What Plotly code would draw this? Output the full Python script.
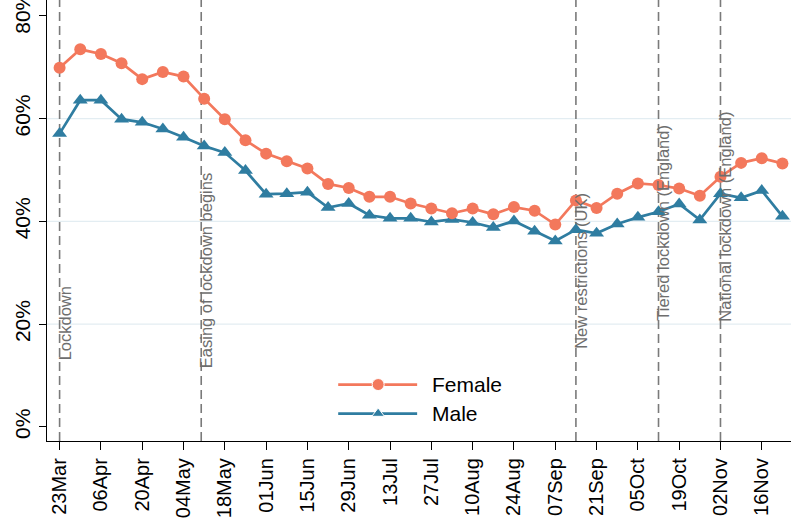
import pandas as pd
import plotly.graph_objects as go

# ---- data ----
start_date = "2020-03-23"
n_weeks = 36
female = [69.9, 73.5, 72.6, 70.8, 67.7, 69.1, 68.2, 63.9, 59.9, 55.8, 53.2, 51.7,
          50.3, 47.3, 46.5, 44.8, 44.8, 43.5, 42.5, 41.6, 42.5, 41.4, 42.8, 42.1,
          39.4, 44.1, 42.6, 45.4, 47.4, 47.1, 46.4, 45.0, 48.7, 51.4, 52.3, 51.3]
male = [57.1, 63.6, 63.6, 59.9, 59.3, 58.0, 56.4, 54.7, 53.4, 49.9, 45.3, 45.4,
        45.7, 42.7, 43.5, 41.2, 40.6, 40.6, 39.9, 40.4, 39.8, 38.8, 40.1, 38.1,
        36.2, 38.4, 37.7, 39.5, 40.8, 41.9, 43.4, 40.3, 45.4, 44.6, 46.0, 41.0]
tick_labels = ["23Mar", "06Apr", "20Apr", "04May", "18May", "01Jun", "15Jun", "29Jun",
               "13Jul", "27Jul", "10Aug", "24Aug", "07Sep", "21Sep", "05Oct", "19Oct",
               "02Nov", "16Nov"]
y_tick_vals = [0, 20, 40, 60, 80]
y_tick_text = ["0%", "20%", "40%", "60%", "80%"]
event_dates = ["2020-03-23", "2020-05-10", "2020-09-14", "2020-10-12", "2020-11-02"]
event_labels = ["Lockdown", "Easing of lockdown begins", "New restrictions (UK)",
                "Tiered lockdown (England)", "National lockdown (England)"]
event_label_y = [12.5, 11.0, 14.8, 20.2, 20.2]

dates = pd.date_range(start_date, periods=n_weeks, freq="7D")
tick_vals = list(dates[::2])

FEMALE_C = "#F3785C"
MALE_C = "#2F7DA1"
FONT = "Liberation Sans, Arial, sans-serif"

fig = go.Figure()
fig.add_trace(go.Scatter(x=dates, y=male, mode="lines+markers", name="Male",
                         line=dict(color=MALE_C, width=2.7),
                         marker=dict(symbol="triangle-up", size=13, color=MALE_C),
                         showlegend=False))
fig.add_trace(go.Scatter(x=dates, y=female, mode="lines+markers", name="Female",
                         line=dict(color=FEMALE_C, width=2.7),
                         marker=dict(symbol="circle", size=12, color=FEMALE_C),
                         showlegend=False))

# custom legend drawn on an overlay axis (paper-like coordinates)
legend_items = [("Female", FEMALE_C, "circle", 0.128), ("Male", MALE_C, "triangle-up", 0.0622)]
for name, col, sym, ly in legend_items:
    fig.add_trace(go.Scatter(x=[0.3914, 0.4451, 0.4975], y=[ly, ly, ly],
                             mode="lines+markers", xaxis="x2", yaxis="y2",
                             line=dict(color=col, width=2.7),
                             marker=dict(symbol=sym, size=[0, 12 if sym == "circle" else 11, 0],
                                         color=col, opacity=1),
                             showlegend=False, hoverinfo="skip"))
    fig.add_annotation(x=0.515, y=ly, xref="x2", yref="y2", text=name, showarrow=False,
                       xanchor="left", yanchor="middle",
                       font=dict(family=FONT, size=21, color="black"))

# gridlines at interior ticks
for gv in [20, 40, 60]:
    fig.add_shape(type="line", xref="paper", x0=0, x1=1, yref="y", y0=gv, y1=gv,
                  line=dict(color="#E3EDF2", width=1.3), layer="below")

# event lines and labels
for d, lab, ly in zip(event_dates, event_labels, event_label_y):
    fig.add_shape(type="line", xref="x", x0=d, x1=d, yref="paper", y0=0, y1=1,
                  line=dict(color="#7A7A7A", width=1.6, dash="9px,5px"), layer="below")
    fig.add_annotation(x=d, y=ly, xref="x", yref="y", text=lab, showarrow=False,
                       textangle=-90, xanchor="center", yanchor="bottom", xshift=5,
                       font=dict(family=FONT, size=16.5, color="#6E6E6E"))

fig.update_layout(
    width=791, height=526,
    margin=dict(l=47, r=0, t=0, b=85),
    plot_bgcolor="white", paper_bgcolor="white",
    font=dict(family=FONT, color="black"),
    xaxis=dict(type="date", automargin=False,
               range=["2020-03-18 17:30", "2020-11-25 21:40"],
               tickvals=tick_vals, ticktext=tick_labels, tickangle=-90,
               tickfont=dict(size=20, color="black"),
               showline=True, linecolor="black", linewidth=1.3,
               ticks="outside", ticklen=8, tickcolor="black", tickwidth=1.3,
               showgrid=False, zeroline=False),
    yaxis=dict(range=[-2.73, 83.1], tickvals=y_tick_vals, ticktext=y_tick_text,
               automargin=False, ticklabeloverflow="allow",
               tickangle=-90, tickfont=dict(size=21, color="black"),
               showline=True, linecolor="black", linewidth=1.3,
               ticks="outside", ticklen=7, tickcolor="black", tickwidth=1.3,
               showgrid=False, zeroline=False),
    xaxis2=dict(overlaying="x", range=[0, 1], visible=False, domain=[0, 1]),
    yaxis2=dict(overlaying="y", range=[0, 1], visible=False),
)

fig.write_html("out.html", config={"displayModeBar": False},
               post_script="document.body.style.margin='0';document.body.style.overflow='hidden';")
